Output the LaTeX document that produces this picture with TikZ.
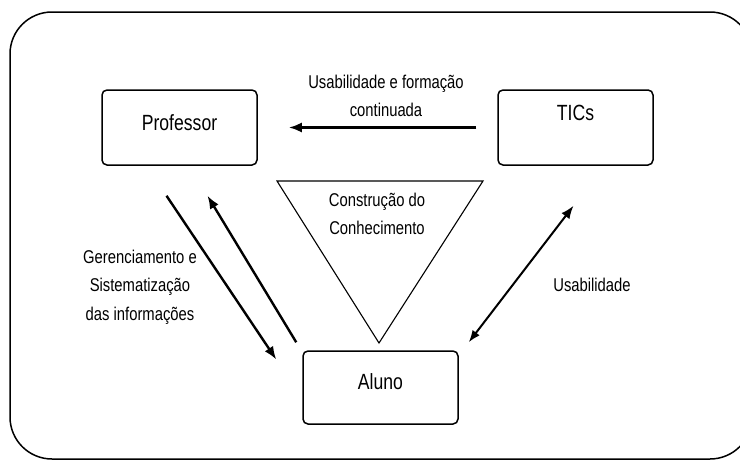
\documentclass[tikz,border=0pt]{standalone}
\usepackage{fontspec}
\setmainfont[FakeStretch=0.8]{Liberation Sans}
\usetikzlibrary{arrows.meta}

\tikzset{
    box/.style={draw, line width=1.5pt, rounded corners=5pt, minimum width=155pt, minimum height=75pt, font=\fontsize{22}{26}\selectfont},
    lbl/.style={align=center, font=\fontsize{18.5}{28.5}\selectfont},
    arr/.style={line width=2.4pt, -{Latex[length=13pt,width=10pt]}},
    darr/.style={line width=2pt, {Latex[length=12pt,width=9pt]}-{Latex[length=13pt,width=10pt]}}
}

\begin{document}
\begin{tikzpicture}[x=1pt,y=-1pt]
    \useasboundingbox (0,0) rectangle (740,461);
    % Outer frame
    \draw[line width=1.5pt, rounded corners=42pt] (10,12) rectangle (752,459);

    % Actors
    \node[box, text depth=9pt] (prof) at (179.5,127.5) {Professor};
    \node[box, text depth=30pt] (tics) at (575.5,127.5) {TICs};
    \node[box, minimum height=73pt, text depth=12pt] (aluno) at (380.5,387.5) {Aluno};

    % Knowledge triangle
    \draw[line width=1.1pt] (277,181) -- (483,181) -- (379,343) -- cycle;
    \node[lbl] (constr) at (377,214) {Construção do\\Conhecimento};

    % Relations
    \draw[arr, shorten <=21pt, shorten >=31pt] (tics.west) -- (prof.east);
    \node[lbl] (usoform) at (386,96) {Usabilidade e formação\\continuada};

    \draw[arr] ([shift={(-13,30)}]prof.south) -- ([shift={(-26,-28)}]aluno.west);
    \draw[arr] ([shift={(-6,-8)}]aluno.north west) -- ([shift={(28,30)}]prof.south);
    \node[lbl] (gerenc) at (140,287) {Gerenciamento e\\Sistematização\\das informações};

    \draw[darr] ([shift={(10,-8)}]aluno.north east) -- ([shift={(-2,40)}]tics.south);
    \node[lbl] (usab) at (592,285) {Usabilidade};
\end{tikzpicture}
\end{document}
